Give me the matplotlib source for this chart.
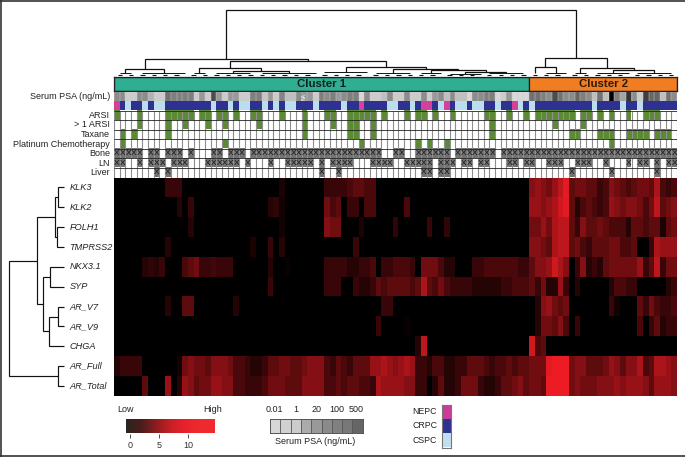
import numpy as np
import matplotlib
matplotlib.use("Agg")
import matplotlib.pyplot as plt
from matplotlib.colors import LinearSegmentedColormap, to_rgb
from matplotlib.patches import Rectangle

plt.rcParams['font.family'] = ['Liberation Sans', 'DejaVu Sans']

W, H = 685, 457
N = 99
GENES = ["KLK3", "KLK2", "FOLH1", "TMPRSS2", "NKX3.1", "SYP", "AR_V7", "AR_V9", "CHGA", "AR_Full", "AR_Total"]
ANNOT = ["Serum PSA (ng/mL)", "", "ARSI", "> 1 ARSI", "Taxane", "Platinum Chemotherapy", "Bone", "LN", "Liver"]

# grey percent of the serum PSA strip, per sample
psa_grey = [55,55,80,80,55,55,70,80,80,45,50,50,50,50,80,60,80,30,60,80,60,60,80,80,50,50,78,60,80,52,75,75,55,60,
            60,80,50,55,50,60,55,50,50,85,55,80,80,75,55,80,80,55,80,80,55,80,60,55,75,55,75,75,85,55,55,50,50,85,80,60,85,85,85,
            45,45,50,55,30,45,55,55,40,50,55,75,45,75,0,50,65,20,55,80,25,40,40,75,45,55]
neuro = [0,43,54,55,58,70]
cspc = [2,5,7,8,17,20,22,23,26,28,30,31,35,40,48,49,52,57,60,61,63,64,67,71,73,84,89,92]
arsi = [0,4,9,10,11,12,13,15,16,18,19,21,24,25,29,33,37,38,41,42,43,44,45,47,51,53,54,56,59,65,66,69,72,
        74,75,76,77,78,79,80,82,83,85,87,90,93,94,95]
arsi2 = [4,9,12,16,19,25,33,38,41,42,45,66,77,82]
taxane = [1,3,9,33,41,42,45,66,80,81,85,86,87,90,91,92,93,95,96,97]
platinum = [1,19,43,53,55,58,87]
bone = [0,1,2,3,4,6,7,9,10,11,13,17,18,20,21,22]+list(range(24,47))+[49,50]+list(range(53,59))+list(range(60,67))+list(range(68,99))
ln = [0,1,4,6,7,8,10,11,12,16,17,18,19,20,21,23,27,30,31,32,33,34,36,38,39,40,41,45,46,47,48,51,52,53,54,55,
      57,58,59,61,62,64,65,69,70,72,73,76,77,78,81,82,83,86,90,92,93,95,97,98]
liver = [7,9,36,39,54,55,57,58,80,87,95]

# expression per sample (absent samples read as zero)
klk3 = {9:3,10:3,11:3,29:1.5,37:3,38:3,39:3,40:3,41:4,42:5,43:5,44:4,45:4,73:7,74:8,75:7,76:6,77:8,78:10,79:12,
        80:5,81:6,82:6,83:5,84:5,85:3,86:4,87:7,88:6,89:5,90:4,91:5,92:6,93:6,94:5,95:9,96:4,97:3,98:4}
klk2 = {11:2,13:3,27:2,28:2.5,29:1,37:6,38:4,39:5,41:3,42:3,44:4,45:4,51:4,73:8,74:8,75:7,76:8,77:9,78:11,79:12,
        80:5,81:2,82:4,83:5,84:4,85:3,86:4,87:8,88:7,89:6,90:7,91:7,92:6,93:4,94:6,95:10,96:5,97:6,98:7}
folh1 = {13:2,29:1,37:7,38:6,39:6,43:1.5,49:2.5,55:3,58:2.5,73:6,74:6,75:8,76:6,77:9,78:10,79:10,
         80:5,81:3,82:7,83:5,84:5,85:6,86:5,87:4,88:4,89:4,90:2,91:5,92:5,93:4,94:5,95:5,96:1.5,97:5,98:6}
tmprss2 = {9:2,24:1.5,27:3,29:2,42:3,73:7,74:7,75:6,76:5,77:9,78:10,79:10,
           80:5,81:6,82:4,83:3,84:5,85:5,86:5,87:6,88:6,89:4,90:4,91:5,94:3,95:9,96:8,97:8,98:8}
nkx31 = {5:2,6:2.5,7:2,8:3,12:4,13:5,14:6,15:3,16:3,17:3.5,18:3,19:3,20:3,27:2,30:.5,37:3,38:3,39:3,40:3,41:2,42:2,43:3,44:3,45:4,
         47:3,48:3,49:4,50:4,51:4,52:3,54:6,55:6,56:6,57:4,58:2,59:2,63:3,64:3,65:4,66:4,67:4,68:4,69:4,70:4,71:3,72:3,
         73:5,74:7,75:7,76:8,77:11,78:9,79:7,81:3,82:7,83:2,84:3,85:2,86:5,87:6,88:6,89:6,90:6,91:6,92:8,93:3,94:5,95:10,96:3,97:6,98:6}
syp = {27:3,37:3,38:3,39:3,42:3,43:2,44:2,45:3,46:5,47:4,48:5,49:5,50:5,51:5,52:4,53:5,54:9,55:5,56:4,57:6,58:4,59:3,
       60:3,61:3,62:3,63:2,64:2,65:2,66:2,67:2,68:3,69:3,70:4,71:4,72:4,73:5,74:3,75:6,76:2,77:2,78:8,79:3,81:2,87:2,88:4,89:4,90:3,91:3,97:2,98:3}
ar_v7 = {9:2,12:5,13:5,21:2,47:3,48:3,74:2,75:7,76:8,77:6,78:5,79:6,87:3,88:1,92:5,93:3,94:6,95:4,96:3,97:3,98:4}
ar_v9 = {46:3,51:.5,74:2,75:6,76:6,77:5,78:7,79:4,81:3,92:4,94:3,95:5,96:2,97:3,98:3}
chga = {53:2,54:10,73:11,74:4,75:5}
ar_full = {0:2,1:3,2:3,3:3,4:3,11:1,12:6,13:7,14:6,15:6,16:5,17:7,18:7,19:7,20:6,21:4,22:4,23:3,24:2,25:2,26:3,27:5,28:5,29:6,30:6,31:5,32:5,33:6,34:7,35:7,36:7,
           37:4,38:3,39:5,40:4,41:3,42:5,43:5,44:5,45:8,46:8,47:9,48:8,49:7,50:8,51:9,52:8,53:3,54:3,55:2,56:4,57:4,58:2,59:2,60:3,61:3,62:5,63:5,64:5,65:4,66:3,67:4,68:4,69:5,70:4,71:5,72:5,
           73:6,74:6,75:6,76:12,77:13,78:13,79:13,80:6,81:7,82:7,83:5,84:5,85:5,86:6,87:8,88:7,89:5,90:7,91:7,92:9,93:4,94:5,95:9,96:9,97:8,98:7}
ar_total = {5:5,9:8,11:2,12:8,13:7,14:5,15:6,16:6,17:8,18:8,19:7,20:7,21:4,22:4,23:3,24:3,25:3,26:4,27:6,28:6,29:6,30:5,31:5,32:5,33:7,34:7,35:7,36:7,
            37:4,38:4,39:5,40:4,41:5,42:5,43:4,44:4,45:3,46:9,47:8,48:8,49:8,50:8,51:7,52:7,53:3,54:3,56:2,57:5,58:2,59:2,60:3,61:6,62:6,63:6,64:3,65:2,66:2,67:3,68:5,69:5,70:6,71:7,72:5,
            73:6,74:6,75:5,76:13,77:14,78:14,79:14,80:6,81:7,82:6,83:6,84:6,85:7,86:7,87:7,88:8,89:7,90:8,91:8,92:8,93:7,94:5,95:8,96:8,97:8,98:7}
expr_rows = [klk3, klk2, folh1, tmprss2, nkx31, syp, ar_v7, ar_v9, chga, ar_full, ar_total]

# dendrograms: (height, left, right); [first, last, height] is a run of neighbouring low merges
col_tree = (65.5,
    (17, (6.2, [0, 3, 2.4], [4, 12, 2.6]),
         (14.5, (7.3, [13, 16, 2.8], (4.4, [17, 24, 2.2], [25, 35, 2.4])),
                (8.8, [36, 44, 3.4],
                      (7, [45, 52, 2.4], (5.3, [53, 57, 2.2], (3.6, [58, 64, 2.0], [65, 72, 2.4])))))),
    (17.5, (8.5, [73, 74, 2.4], [75, 79, 2.6]),
           (7.2, [80, 83, 2.4], (5.6, [84, 90, 2.4], [91, 98, 2.6]))))
row_tree = (55.5,
    (27, (8.5, (5.5, 0, 1), (7, 2, 3)),
         (21.5, (14, 4, 5), (15, (5.5, 6, 7), 8))),
    (6, 9, 10))

def ax_px(x0, y0, x1, y1, **kw):
    return fig.add_axes([x0 / W, 1 - y1 / H, (x1 - x0) / W, (y1 - y0) / H], **kw)

fig = plt.figure(figsize=(W / 100, H / 100), dpi=100, facecolor='white')
LEFT, RIGHT = 114, 677

# outer frame
frame = ax_px(0, 0, W, H)
frame.set_xlim(0, W); frame.set_ylim(H, 0); frame.axis('off')
frame.plot([0.7, 0.7], [0, H], color='#333333', lw=1.2)
frame.plot([0, W], [0.6, 0.6], color='#333333', lw=1.2)
frame.plot([0, W], [456, 456], color='#333333', lw=1.2)

# column dendrogram
dc = ax_px(LEFT, 5, RIGHT, 75.5)
dc.set_xlim(0, N); dc.set_ylim(0, 70.5); dc.axis('off')
def seg(ax, xs, ys, lw=0.9, color='#111111'):
    ax.plot(xs, ys, color=color, lw=lw, solid_capstyle='butt', solid_joinstyle='miter', clip_on=False)
def draw_col(n):
    if isinstance(n, int):
        return n + 0.5, 0
    if isinstance(n, list):
        first, last, h = n
        stems = []
        for i in range(first, last + 1, 2):
            if i + 1 <= last:
                seg(dc, [i + .62, i + 1.38], [0.8, 0.8], lw=0.8)
                stems.append(i + 1)
            else:
                stems.append(i + .5)
        seg(dc, [stems[0], stems[-1]], [h, h], lw=0.7)
        return (stems[0] + stems[-1]) / 2, h
    h, l, r = n
    xl, hl = draw_col(l)
    xr, hr = draw_col(r)
    seg(dc, [xl, xl, xr, xr], [hl, h, h, hr])
    return (xl + xr) / 2, h
draw_col(col_tree)

# cluster bars
cb = ax_px(LEFT, 76.5, RIGHT, 91)
cb.set_xlim(0, N); cb.set_ylim(0, 1); cb.set_xticks([]); cb.set_yticks([])
for s in cb.spines.values():
    s.set_linewidth(0.9); s.set_color('#222222')
cb.add_patch(Rectangle((0, 0), 73, 1, facecolor='#2fae91', edgecolor='#222222', lw=0.9))
cb.add_patch(Rectangle((73, 0), 26, 1, facecolor='#f07d22', edgecolor='#222222', lw=0.9))
cb.text(36.5, 0.5, "Cluster 1", ha='center', va='center', fontsize=8.2, fontweight='bold', color='#10201c')
cb.text(86, 0.5, "Cluster 2", ha='center', va='center', fontsize=8.2, fontweight='bold', color='#2b1a0c')

# annotation rows
an = ax_px(LEFT, 91.5, RIGHT, 177.5)
an.set_xlim(0, N); an.set_ylim(9, 0); an.set_xticks([]); an.set_yticks([])
for s in an.spines.values():
    s.set_visible(False)
img = np.ones((9, N, 3))
NAVY, LIGHT, PINK, GREEN, GREY = map(to_rgb, ('#2e3192', '#b9dfee', '#d6409a', '#5b8a32', '#727272'))
for i in range(N):
    img[0, i] = psa_grey[i] / 100
    img[1, i] = PINK if i in neuro else LIGHT if i in cspc else NAVY
for r, members, col in ((2, arsi, GREEN), (3, arsi2, GREEN), (4, taxane, GREEN), (5, platinum, GREEN),
                        (6, bone, GREY), (7, ln, GREY), (8, liver, GREY)):
    for i in members:
        img[r, i] = col
an.imshow(img, aspect='auto', interpolation='nearest', extent=(0, N, 9, 0))
an.vlines(np.arange(N + 1), 2, 9, color='#8f8f8f', lw=0.8)
an.vlines(np.arange(N + 1), 0, 1, color='#c9c9c9', lw=0.35)
an.hlines(np.arange(2, 10), 0, N, color='#222222', lw=0.6)
for r, members in ((6, bone), (7, ln), (8, liver)):
    for i in members:
        an.text(i + .5, r + .52, "X", ha='center', va='center', fontsize=6, color='#111111')
an.text(33.5, 0.5, "NA", rotation=90, ha='center', va='center', fontsize=3.6, color='white')
for r, lab in enumerate(ANNOT):
    if lab:
        an.text(-0.7, r + .5, lab, ha='right', va='center', fontsize=6.5, color='#222222', clip_on=False)

# heatmap
EXPR = LinearSegmentedColormap.from_list('expr', ['#000000', '#ed1c24'])
mat = np.zeros((len(GENES), N))
for r, row in enumerate(expr_rows):
    for i, v in row.items():
        mat[r, i] = v
hm = ax_px(LEFT, 177.5, RIGHT, 396)
hm.imshow(mat, aspect='auto', cmap=EXPR, vmin=0, vmax=12.5, interpolation='nearest', extent=(0, N, len(GENES), 0))
hm.set_xticks([]); hm.set_yticks([])
for s in hm.spines.values():
    s.set_visible(False)

# row dendrogram
dr = ax_px(0, 177.5, 64, 396)
dr.set_xlim(64, 0); dr.set_ylim(len(GENES), 0); dr.axis('off')
def draw_row(n):
    if isinstance(n, int):
        return 0, n + .5
    h, a, b = n
    xa, ya = draw_row(a)
    xb, yb = draw_row(b)
    seg(dr, [xa, h, h, xb], [ya, ya, yb, yb], lw=0.85)
    return h, (ya + yb) / 2
draw_row(row_tree)
for i, g in enumerate(GENES):
    dr.text(-5.5, i + .5, g, ha='left', va='center', fontsize=6.6, style='italic', color='#222222', clip_on=False)

# expression legend
LEG = LinearSegmentedColormap.from_list('leg', ['#2b2422', '#4a1d1c', '#8c1c20', '#c81f26', '#e8222a', '#ee2a2e'])
lg = ax_px(126, 418.5, 215, 433.5)
lg.imshow(np.linspace(-0.7, 14.6, 200)[None, :], aspect='auto', cmap=LEG, vmin=-0.7, vmax=12,
          extent=(-0.7, 14.6, 0, 1), interpolation='bilinear')
lg.set_yticks([])
lg.set_xticks([0, 5, 10])
lg.tick_params(axis='x', length=3, width=0.6, pad=2.5, labelsize=6.5, colors='#333333')
for s in lg.spines.values():
    s.set_visible(False)
frame.text(126, 409.7, "Low", ha='center', va='center', fontsize=6.5, color='#222222')
frame.text(213, 409.7, "High", ha='center', va='center', fontsize=6.5, color='#222222')

# PSA legend
psa_legend_grey = [84, 82, 80, 67, 60, 54, 50, 47, 40]
pl = ax_px(270, 418.5, 362.7, 433)
pl.imshow(np.array(psa_legend_grey)[None, :] / 100, aspect='auto', cmap='gray', vmin=0, vmax=1,
          extent=(0, 9, 0, 1), interpolation='nearest')
pl.set_xticks([]); pl.set_yticks([])
pl.vlines(range(1, 9), 0, 1, color='#555555', lw=0.6)
for s in pl.spines.values():
    s.set_linewidth(0.7); s.set_color('#555555')
for lab, pos in zip(["0.01", "1", "20", "100", "500"], [0.4, 2.5, 4.5, 6.45, 8.4]):
    pl.text(pos, 1.62, lab, ha='center', va='center', fontsize=6.5, color='#222222', clip_on=False)
pl.text(4.4, -0.6, "Serum PSA (ng/mL)", ha='center', va='center', fontsize=6.5, color='#222222', clip_on=False)

# disease legend
tl = ax_px(441.7, 404.5, 450.7, 447.5)
tl.set_xlim(0, 1); tl.set_ylim(3, 0); tl.set_xticks([]); tl.set_yticks([])
for r, (lab, col) in enumerate(zip(["NEPC", "CRPC", "CSPC"], ['#c93d96', '#2e3192', '#bfe0ec'])):
    tl.add_patch(Rectangle((0, r), 1, 1, facecolor=col, edgecolor='none'))
    tl.text(-0.5, r + .5, lab, ha='right', va='center', fontsize=6.3, color='#222222', clip_on=False)
for s in tl.spines.values():
    s.set_linewidth(0.8); s.set_color('#777777')

fig.savefig('out.png', dpi=100)
